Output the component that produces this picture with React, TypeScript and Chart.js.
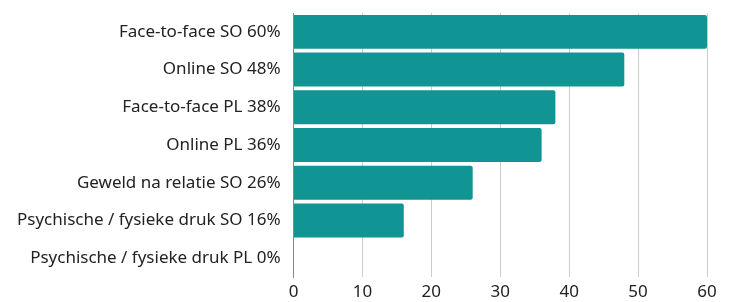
import React, { useEffect, useRef } from "react";
import { Chart, registerables } from "chart.js";

Chart.register(...registerables);

const categories: string[] = [
  "Face-to-face SO 60%",
  "Online SO 48%",
  "Face-to-face PL 38%",
  "Online PL 36%",
  "Geweld na relatie SO 26%",
  "Psychische / fysieke druk SO 16%",
  "Psychische / fysieke druk PL 0%",
];
const values: number[] = [60, 48, 38, 36, 26, 16, 0];
const xTicks = { min: 0, max: 60, step: 10 };

const BAR_COLOR = "#119494";
const FONT = "'Noto Sans', sans-serif";

export default function App() {
  const ref = useRef<HTMLCanvasElement | null>(null);
  useEffect(() => {
    document.body.style.margin = "0";
    const ctx = ref.current!;
    const chart = new Chart(ctx, {
      type: "bar",
      data: {
        labels: categories,
        datasets: [
          {
            data: values,
            backgroundColor: BAR_COLOR,
            borderRadius: 2,
            borderSkipped: "start",
            barPercentage: 0.9,
            categoryPercentage: 1,
          },
        ],
      },
      options: {
        indexAxis: "y",
        animation: false,
        responsive: false,
        devicePixelRatio: 1,
        layout: { padding: { top: 13, right: 23, left: 4, bottom: 0 } },
        plugins: { legend: { display: false }, tooltip: { enabled: false } },
        scales: {
          x: {
            min: xTicks.min,
            max: xTicks.max,
            ticks: { stepSize: xTicks.step, color: "#222", font: { family: FONT, size: 17 }, padding: 5 },
            grid: { color: "#cccccc", drawTicks: false },
            border: { display: false },
            afterFit: (scale: any) => {
              scale.height = 25;
            },
          },
          y: {
            ticks: { color: "#222", font: { family: FONT, size: 17 }, padding: 13 },
            grid: { display: false, drawTicks: false },
            border: { display: true, color: "#888888" },
            afterFit: (scale: any) => {
              scale.paddingTop = 0;
              scale.paddingBottom = 0;
            },
          },
        },
      },
    });
    return () => chart.destroy();
  }, []);
  return (
    <div style={{ width: 730, height: 302 }}>
      <canvas ref={ref} width={730} height={302} />
    </div>
  );
}
